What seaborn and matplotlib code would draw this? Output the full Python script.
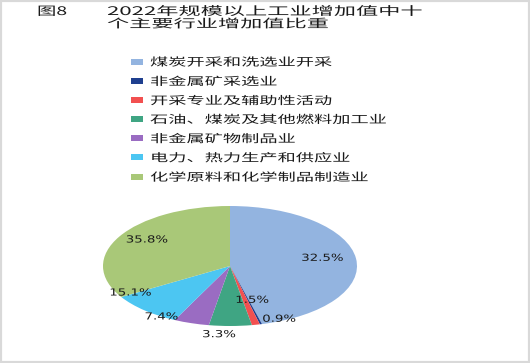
import matplotlib
matplotlib.use("Agg")
import numpy as np
import matplotlib.pyplot as plt
import seaborn as sns
from matplotlib.patheffects import AbstractPathEffect
from matplotlib.transforms import Affine2D
from matplotlib.patches import Patch, Rectangle

# ---------------- data ----------------
categories = ["煤炭开采和洗选业开采", "非金属矿采选业", "开采专业及辅助性活动",
              "石油、煤炭及其他燃料加工业", "非金属矿物制品业",
              "电力、热力生产和供应业", "化学原料和化学制品制造业"]
share_pct = [32.5, 0.9, 1.5, 3.3, 7.4, 15.1, 35.8]          # printed labels
slice_deg = [165.4, 1.0, 3.7, 19.5, 16.2, 33.1, 121.1]       # angular extent as drawn
colors = ["#93b4e0", "#1f3f8f", "#f25050", "#3fa583", "#9a6cc2", "#4cc6f2", "#a9c878"]
title_fig = "图8"
title_main = "2022年规模以上工业增加值中十\n个主要行业增加值比重"

# label placement (radius factor, angle in degrees) in the unit ellipse
label_pos = [(0.74, 10.6), (0.96, -66.3), (0.59, -72.8), (1.14, -94.4),
             (1.0, -122.7), (0.9, -150.6), (0.79, 146.0)]

sns.set_theme(style="white")
plt.rcParams["font.family"] = ["Noto Sans CJK SC", "DejaVu Sans"]


class Stretch(AbstractPathEffect):
    """Horizontally widen glyphs (text stays a real Text artist)."""
    def __init__(self, sx, anchor="left"):
        super().__init__()
        self.sx = sx
        self.anchor = anchor

    def draw_path(self, renderer, gc, tpath, affine, rgbFace=None):
        if self.anchor == "center":
            ext = tpath.get_extents()
            cx = 0.5 * (ext.x0 + ext.x1)
        else:
            cx = 0.0
        t = Affine2D().translate(-cx, 0).scale(self.sx, 1).translate(cx, 0) + affine
        renderer.draw_path(gc, tpath, t, rgbFace)


W, H = 530, 363
fig = plt.figure(figsize=(W / 100, H / 100), dpi=100)
fig.patch.set_facecolor("white")

# pie (flattened ellipse)
ax = fig.add_axes([103 / W, 1 - 326 / H, 254 / W, 120 / H])
wedges, _ = ax.pie(slice_deg, colors=colors, startangle=90, counterclock=False,
                   wedgeprops=dict(linewidth=0))
ax.set_aspect("auto")
ax.set_xlim(-1, 1)
ax.set_ylim(-1, 1)
ax.axis("off")

for v, (r, a) in zip(share_pct, label_pos):
    x, y = r * np.cos(np.radians(a)), r * np.sin(np.radians(a))
    t = ax.text(x, y, f"{v}%", ha="center", va="center", fontsize=7,
                family=["DejaVu Sans"], color="#1a1a1a", clip_on=False)
    t.set_path_effects([Stretch(1.37, anchor="center")])

# legend
handles = [Patch(facecolor=c, edgecolor="none") for c in colors]
leg = fig.legend(handles, categories, loc="upper left",
                 bbox_to_anchor=(131 / W, 1 - 57 / H), frameon=False,
                 fontsize=8, borderpad=0, borderaxespad=0,
                 handlelength=1.08, handleheight=0.45, handletextpad=0.63,
                 labelspacing=0.77)
for t in leg.get_texts():
    t.set_path_effects([Stretch(1.64)])
    t.set_color("#1a1a1a")

# title
t0 = fig.text(37 / W, 1 - 5 / H, title_fig, ha="left", va="top", fontsize=8.5,
              color="#1a1a1a")
t0.set_path_effects([Stretch(1.64)])
t1 = fig.text(107 / W, 1 - 5 / H, title_main, ha="left", va="top", fontsize=8.5,
              color="#1a1a1a", linespacing=0.95)
t1.set_path_effects([Stretch(1.88)])

# light grey frame
fig.add_artist(Rectangle((0, 0), 1, 1, transform=fig.transFigure, fill=False,
                         edgecolor="#d9d9d9", linewidth=3))

fig.savefig("out.png", dpi=100)
